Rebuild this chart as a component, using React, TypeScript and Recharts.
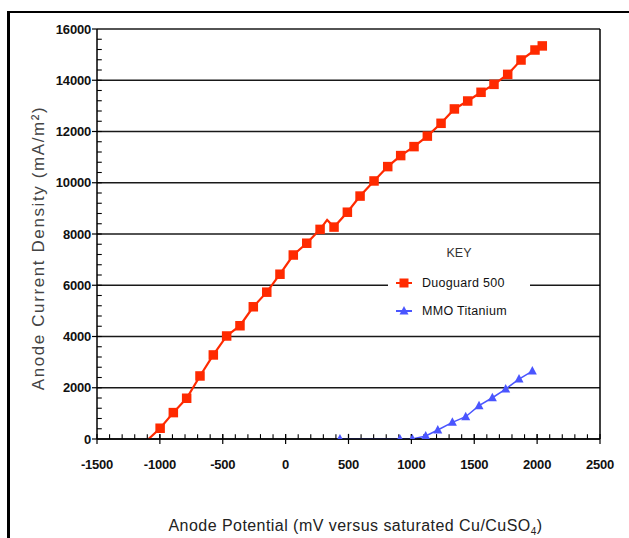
import React from 'react';
import {
  LineChart,
  Line,
  XAxis,
  YAxis,
  CartesianGrid,
  ReferenceLine,
  Legend,
} from 'recharts';

// Duoguard 500 readings (mV, mA/m2)
const duoguardPotential = [
  -1090, -998, -893, -787, -681, -575, -469, -363, -257, -150, -45, 61, 168,
  274, 330, 385, 491, 592, 703, 812, 915, 1021, 1127, 1236, 1342, 1448, 1554,
  1657, 1766, 1872, 1983, 2041,
];
const duoguardDensity = [
  0, 420, 1030, 1590, 2460, 3280, 4020, 4420, 5160, 5730, 6430, 7180, 7640,
  8180, 8550, 8270, 8850, 9480, 10070, 10630, 11060, 11410, 11820, 12320,
  12880, 13190, 13530, 13840, 14230, 14790, 15180, 15340,
];

// MMO Titanium readings
const mmoPotential = [432, 909, 1008, 1114, 1210, 1326, 1432, 1538, 1644, 1750, 1856, 1962];
const mmoDensity = [0, 0, 0, 120, 350, 650, 870, 1300, 1610, 1950, 2340, 2650];

const xTicks = [-1500, -1000, -500, 0, 500, 1000, 1500, 2000, 2500];
const yTicks = [0, 2000, 4000, 6000, 8000, 10000, 12000, 14000, 16000];

// points drawn in the curve but without a marker
const duoguardUnmarked = [0, 14];

const RED = '#ff2a00';
const BLUE = '#4a55ff';
const FONT = '"Liberation Sans", Arial, sans-serif';

const duoguardData = duoguardPotential.map((v, i) => ({ v, d: duoguardDensity[i] }));
const mmoData = mmoPotential.map((v, i) => ({ v, d: mmoDensity[i] }));

// minor tick marks (inside the plot), every 100 mV and every 400 mA/m2
const minorX: number[] = [];
for (let t = -1400; t < 2500; t += 100) minorX.push(t);
const minorY: number[] = [];
for (let t = 400; t < 16000; t += 400) minorY.push(t);

function SquareDot(props: any) {
  const { cx, cy, index } = props;
  if (duoguardUnmarked.includes(index) || cx == null) return <g key={`s-${index}`} />;
  return <rect key={`s-${index}`} x={cx - 4.75} y={cy - 4.75} width={9.5} height={9.5} fill={RED} />;
}

function TriangleDot(props: any) {
  const { cx, cy, index } = props;
  if (cx == null) return <g key={`t-${index}`} />;
  return (
    <polygon
      key={`t-${index}`}
      points={`${cx},${cy - 5} ${cx + 4.5},${cy + 3.5} ${cx - 4.5},${cy + 3.5}`}
      fill={BLUE}
    />
  );
}

function KeyLegend({ payload }: any) {
  const items = payload || [];
  return (
    <div style={{ width: 142, background: '#fff', fontFamily: FONT, paddingTop: 10, paddingBottom: 6 }}>
      <div style={{ textAlign: 'center', fontSize: 12.5, color: '#333', marginBottom: 9 }}>KEY</div>
      {items.map((item: any, i: number) => (
        <div key={i} style={{ display: 'flex', alignItems: 'center', height: 28 }}>
          <svg width={30} height={14} style={{ marginLeft: 4 }}>
            <line x1={4} x2={20} y1={7} y2={7} stroke={item.color} strokeWidth={2} />
            {i === 0 ? (
              <rect x={7.5} y={2.5} width={9} height={9} fill={item.color} />
            ) : (
              <polygon points="12,2 16.5,10.5 7.5,10.5" fill={item.color} />
            )}
          </svg>
          <span style={{ fontSize: 12.5, color: '#111', letterSpacing: 0.3 }}>{item.value}</span>
        </div>
      ))}
    </div>
  );
}

function YLabel({ viewBox }: any) {
  const x = viewBox.x + 1;
  const y = 248;
  return (
    <text
      x={x}
      y={y}
      transform={`rotate(-90 ${x} ${y})`}
      textAnchor="middle"
      dominantBaseline="central"
      fontSize={17}
      letterSpacing={1.6}
      fill="#444"
      fontFamily={FONT}
    >
      Anode Current Density (mA/m²)
    </text>
  );
}

function XLabel({ viewBox }: any) {
  const x = viewBox.x + viewBox.width / 2 + 7;
  const y = 531;
  return (
    <text x={x} y={y} textAnchor="middle" fontSize={16} letterSpacing={0.45} fill="#222" fontFamily={FONT}>
      Anode Potential (mV versus saturated Cu/CuSO
      <tspan fontSize={10} dy={4}>4</tspan>
      <tspan dy={-4}>)</tspan>
    </text>
  );
}

const tickStyle = { fontSize: 13, fontWeight: 700, fill: '#111', fontFamily: FONT, letterSpacing: -0.2 };

export default function App() {
  return (
    <div style={{ position: 'absolute', left: 0, top: 0, width: 629, height: 538, overflow: 'hidden', background: '#fff' }}>
      <div
        style={{
          position: 'absolute',
          left: 7,
          top: 11,
          width: 700,
          height: 600,
          borderTop: '2px solid #000',
          borderLeft: '3px solid #000',
        }}
      />
      <div style={{ position: 'absolute', left: 0, top: 0 }}>
        <LineChart width={629} height={538} margin={{ top: 29, right: 29, left: 37, bottom: 69 }}>
          <XAxis
            type="number"
            dataKey="v"
            domain={[-1500, 2500]}
            ticks={xTicks}
            height={30}
            tickSize={5}
            tickMargin={16}
            tick={tickStyle}
            tickLine={{ stroke: '#000', strokeWidth: 1.2 }}
            axisLine={{ stroke: '#000', strokeWidth: 1.5 }}
            allowDataOverflow
            label={<XLabel />}
          />
          <YAxis
            type="number"
            domain={[0, 16000]}
            ticks={yTicks}
            width={60}
            tickSize={5}
            tickMargin={1}
            tick={tickStyle}
            tickLine={{ stroke: '#000', strokeWidth: 1.2 }}
            axisLine={{ stroke: '#000', strokeWidth: 1.5 }}
            allowDataOverflow
            label={<YLabel />}
          />
          <CartesianGrid vertical={false} stroke="#000" strokeWidth={1.5} strokeOpacity={0.9} />
          <ReferenceLine x={2500} stroke="#000" strokeWidth={1.5} />
          {xTicks.map((t) => (
            <ReferenceLine
              key={`mx-${t}`}
              segment={[{ x: t, y: 0 }, { x: t, y: 200 }]}
              stroke="#000"
              strokeWidth={1.2}
            />
          ))}
          {minorX.map((t) => (
            <ReferenceLine
              key={`nx-${t}`}
              segment={[{ x: t, y: 0 }, { x: t, y: 190 }]}
              stroke="#000"
              strokeWidth={1.1}
            />
          ))}
          {minorY.map((t) => (
            <ReferenceLine
              key={`ny-${t}`}
              segment={[{ x: -1500, y: t }, { x: -1462, y: t }]}
              stroke="#000"
              strokeWidth={1.1}
            />
          ))}
          <Legend
            layout="vertical"
            align="center"
            verticalAlign="middle"
            content={<KeyLegend />}
            wrapperStyle={{ left: 388, top: 236, width: 142 }}
          />
          <Line
            data={duoguardData}
            dataKey="d"
            name="Duoguard 500"
            type="linear"
            stroke={RED}
            strokeWidth={2.2}
            dot={<SquareDot />}
            activeDot={false}
            isAnimationActive={false}
          />
          <Line
            data={mmoData}
            dataKey="d"
            name="MMO Titanium"
            type="linear"
            stroke={BLUE}
            strokeWidth={1.5}
            dot={<TriangleDot />}
            activeDot={false}
            isAnimationActive={false}
          />
        </LineChart>
      </div>
    </div>
  );
}
